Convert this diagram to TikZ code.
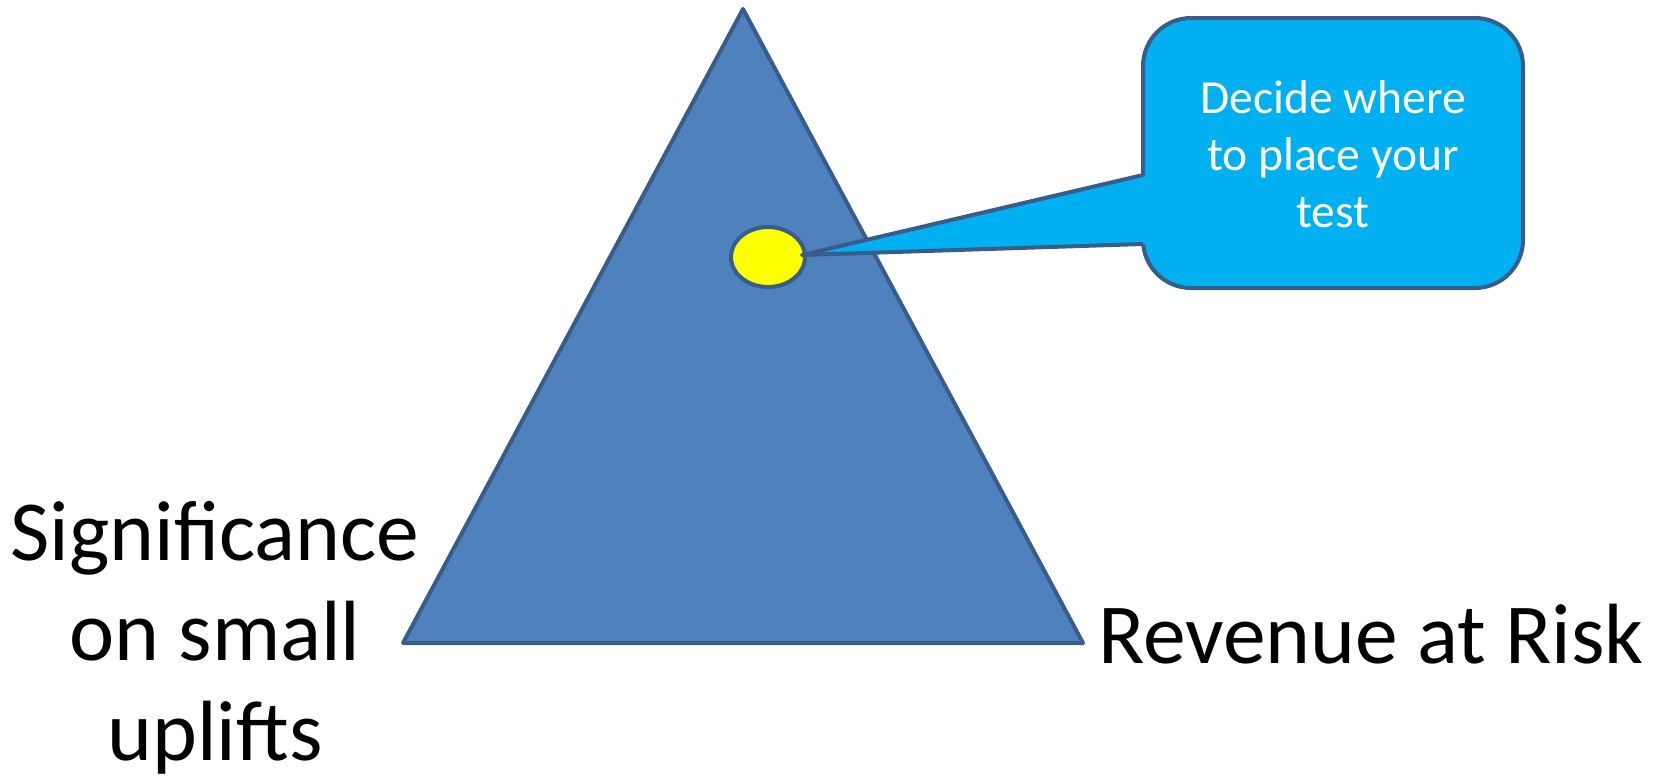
\documentclass[tikz,border=0pt]{standalone}
\usepackage{fontspec}
\setmainfont{Carlito}
\usetikzlibrary{shapes.geometric}
\definecolor{triblue}{HTML}{4F81BD}
\definecolor{edgeblue}{HTML}{385D8A}
\definecolor{callblue}{HTML}{00B0F0}
\definecolor{dotyellow}{HTML}{FFFF00}
\begin{document}
\begin{tikzpicture}[x=1pt,y=-1pt,
  shape edge/.style={draw=edgeblue,line width=4pt},
  biglabel/.style={anchor=base,inner sep=0pt,font=\fontsize{85.5}{100}\selectfont,text=black},
  calltext/.style={anchor=base,inner sep=0pt,font=\fontsize{47.5}{58}\selectfont,text=white}]
\useasboundingbox (0,0) rectangle (1664,779);
% triangle
\coordinate (apex) at (743,9);
\coordinate (bl) at (403,643);
\coordinate (br) at (1083,643);
\fill[triblue] (apex) -- (bl) -- (br) -- cycle;
\draw[shape edge,line join=round] (apex) -- (bl) -- (br) -- cycle;
% callout box
\node[shape edge,fill=callblue,rounded corners=48pt,minimum width=380pt,minimum height=270pt,inner sep=0pt] (box) at (1333,153) {};
% yellow dot
\node[shape edge,fill=dotyellow,ellipse,minimum width=74pt,minimum height=60pt,inner sep=0pt] (dot) at (768,257) {};
% pointer
\coordinate (p1) at (1143,175);
\coordinate (p2) at (1143,244);
\coordinate (tip) at (802,255);
\fill[callblue] ([xshift=4pt]p1) -- (tip) -- ([xshift=4pt]p2) -- cycle;
\draw[shape edge,line join=round] (p1) -- (tip) -- (p2);
% callout text
\node[calltext] (c1) at (1333,113) {Decide where};
\node[calltext] (c2) at (1333,170) {to place your};
\node[calltext] (c3) at (1333,227) {test};
% labels
\node[biglabel] (s1) at (215,560) {Significance};
\node[biglabel] (s2) at (215,660) {on small};
\node[biglabel] (s3) at (215,760) {uplifts};
\node[biglabel] (rev) at (1371,663) {Revenue at Risk};
\end{tikzpicture}
\end{document}
